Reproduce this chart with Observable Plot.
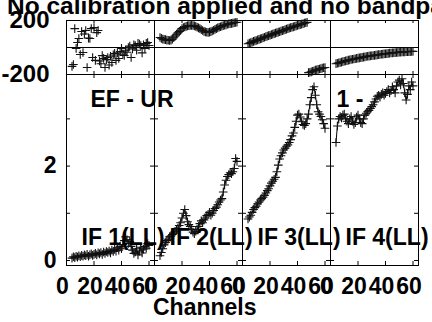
<!DOCTYPE html>
<html>
<head>
<meta charset="utf-8">
<script src="https://cdn.jsdelivr.net/npm/d3@7"></script>
<script src="https://cdn.jsdelivr.net/npm/@observablehq/plot@0.6"></script>
<style>
  html, body { margin: 0; padding: 0; background: #fff; }
  #wrap { position: relative; width: 432px; height: 322px; overflow: hidden;
          font-family: "Liberation Sans", Arial, Helvetica, sans-serif; font-weight: bold; color: #000; }
  #wrap svg { position: absolute; left: 0; top: 0; }
  .title { position: absolute; left: 7px; top: -6px; font-size: 24.5px; line-height: 24.5px; white-space: nowrap; }
  .xlabel { position: absolute; left: 153px; top: 296px; font-size: 23px; line-height: 23px; white-space: nowrap; }
</style>
</head>
<body>
<div id="wrap">
  <div class="title">No calibration applied and no bandpass applied</div>
  <div class="xlabel">Channels</div>
</div>
<script>
// ---- data ----
const panels = ["IF 1(LL)", "IF 2(LL)", "IF 3(LL)", "IF 4(LL)"];
const channels = [4,5,6,7,8,9,10,11,12,13,14,15,16,17,18,19,20,21,22,23,24,25,26,27,28,29,30,31,32,
  33,34,35,36,37,38,39,40,41,42,43,44,45,46,47,48,49,50,51,52,53,54,55,56,57,58,59,60];
const xTickValues = [0, 20, 40, 60];
const phaseTickLabels = [-200, 200];
const ampTickLabels = [0, 2];
const ampTickMarks = [0, 1, 2, 3];

const ampIF1 = [0.05,0.08,0.06,0.09,0.07,0.10,0.08,0.11,0.09,0.12,0.10,0.13,0.09,0.12,0.14,0.11,0.13,0.15,0.12,0.16,
  0.14,0.17,0.13,0.18,0.15,0.19,0.17,0.20,0.16,0.22,0.19,0.24,0.20,0.27,0.22,0.30,0.25,0.34,0.42,0.50,
  0.44,0.36,0.40,0.30,0.22,0.15,0.18,0.25,0.12,0.20,0.28,0.16,0.24,0.30,0.26,0.36,0.32];
const ampIF2 = [0.10,0.17,0.25,0.33,0.38,0.42,0.45,0.50,0.52,0.55,0.58,0.62,0.65,0.68,0.74,0.80,0.90,1.00,1.08,0.95,
  0.82,0.76,0.72,0.66,0.60,0.57,0.62,0.66,0.72,0.78,0.84,0.80,0.86,0.90,0.95,0.98,1.02,0.96,1.00,1.06,
  1.10,1.13,1.18,1.24,1.28,1.31,1.45,1.60,1.70,1.78,1.82,1.86,1.84,1.88,1.95,2.16,2.10];
const ampIF3 = [0.88,0.92,0.96,1.02,1.08,1.12,1.15,1.20,1.24,1.28,1.31,1.34,1.38,1.43,1.48,1.52,1.58,1.64,1.68,1.72,
  1.76,1.88,2.02,2.15,2.22,2.28,2.34,2.38,2.42,2.45,2.50,2.56,2.64,2.70,2.82,2.95,3.08,3.10,3.04,2.94,
  2.88,2.86,2.90,3.00,3.10,3.30,3.45,3.62,3.68,3.50,3.30,3.15,3.10,3.05,2.98,2.90,2.80];
const ampIF4 = [2.50,2.85,3.00,3.05,3.02,3.08,3.10,3.00,2.95,2.90,3.00,3.05,2.95,2.88,2.92,3.04,3.08,3.00,2.92,2.90,
  3.00,3.08,3.12,3.15,3.18,3.22,3.26,3.30,3.36,3.42,3.48,3.50,3.46,3.52,3.55,3.50,3.54,3.58,3.62,3.55,
  3.60,3.68,3.62,3.55,3.70,3.78,3.82,3.72,3.85,3.75,3.55,3.40,3.52,3.70,3.62,3.78,3.70];

const phaseIF1 = [-140,-126,140,-7,37,67,-52,118,-37,100,126,-148,70,67,140,-74,148,-95,110,126,
  -100,-120,-60,-81,-148,-90,-74,-130,-65,-111,-55,-44,-95,-40,-81,-30,-7,-50,-59,-20,
  -35,0,10,-74,-10,20,15,-20,30,25,15,-40,20,-7,30,37,15];
const phaseIF2 = [74,68,62,60,58,55,54,52,55,62,72,85,98,108,118,128,140,148,152,156,
  160,162,163,164,163,160,156,150,145,140,132,126,120,116,113,112,114,118,122,128,
  134,140,145,150,154,158,162,165,168,172,175,177,179,181,183,185,187];
const phaseIF3 = [28,32,36,40,45,49,52,56,60,64,68,72,76,80,84,88,91,95,99,103,
  106,110,114,117,121,125,128,132,136,140,143,147,150,153,157,160,163,167,170,173,
  176,180,183,186,-186,-183,-180,-176,-172,-168,-166,-162,-159,-156,-153,-150,-148];
const phaseIF4 = [-120,-117,-114,-111,-108,-105,-102,-99,-97,-94,-92,-89,-87,-85,-83,-81,-79,-77,-75,-73,
  -71,-69,-67,-65,-64,-62,-61,-59,-58,-56,-55,-53,-52,-50,-49,-47,-46,-45,-44,-42,
  -41,-40,-39,-38,-37,-36,-35,-34,-33,-33,-32,-31,-31,-30,-30,-29,-29];

const overlayLabels = [{panel: "IF 1(LL)", text: "EF - UR"}];
const overlayLabels4 = [{panel: "IF 4(LL)", text: "1 -"}];

// ---- tables built from the arrays ----
const ampSeries = [ampIF1, ampIF2, ampIF3, ampIF4];
const phaseSeries = [phaseIF1, phaseIF2, phaseIF3, phaseIF4];
const ampRows = [], phaseRows = [];
panels.forEach((p, i) => {
  channels.forEach((c, j) => {
    ampRows.push({panel: p, ch: c, v: ampSeries[i][j]});
    phaseRows.push({panel: p, ch: c, v: phaseSeries[i][j]});
  });
});
const panelRows = panels.map(p => ({panel: p}));

const FONT = '"Liberation Sans", Arial, Helvetica, sans-serif';
const plain = d => String(d);
const common = {
  width: 432, height: 322, marginLeft: 65, marginRight: 14,
  style: {fontFamily: FONT, fontWeight: "bold", fontSize: "22px", background: "transparent", overflow: "visible"},
  fx: {domain: panels, padding: 0, axis: null}
};

// Phase plot (top strip)
const phasePlot = Plot.plot({
  ...common,
  marginTop: 20, marginBottom: 248,
  x: {domain: [0, 64], axis: null},
  y: {domain: [-200, 200]},
  marks: [
    Plot.frame({stroke: "#000"}),
    Plot.ruleY([0], {stroke: "#000"}),
    Plot.tickX(xTickValues, {x: d => d, insetTop: 51, stroke: "#000"}),
    Plot.tickX(xTickValues, {x: d => d, insetBottom: 51, stroke: "#000"}),
    Plot.axisY({ticks: phaseTickLabels, tickFormat: plain, tickSize: 0, tickPadding: 17, label: null, fontSize: 24}),
    Plot.dot(phaseRows, {fx: "panel", x: "ch", y: "v", symbol: "plus", r: 2.9, stroke: "#111", strokeWidth: 1.1})
  ]
});

// Amplitude plot (main strip)
const ampPlot = Plot.plot({
  ...common,
  marginTop: 74, marginBottom: 57,
  x: {domain: [0, 64]},
  y: {domain: [-0.106, 3.94]},
  marks: [
    Plot.frame({stroke: "#000"}),
    Plot.tickX(xTickValues, {x: d => d, insetTop: 187, stroke: "#000"}),
    Plot.tickX(xTickValues, {x: d => d, insetBottom: 187, stroke: "#000"}),
    Plot.tickY(ampTickMarks, {y: d => d, insetRight: 84, stroke: "#000"}),
    Plot.tickY(ampTickMarks, {y: d => d, insetLeft: 84, stroke: "#000"}),
    Plot.axisY({ticks: ampTickLabels, tickFormat: plain, tickSize: 0, tickPadding: 10, label: null, fontSize: 23}),
    Plot.axisX({ticks: xTickValues, tickFormat: plain, tickSize: 0, tickPadding: 12, dx: -4, label: null, fontSize: 23}),
    Plot.lineY(ampRows, {fx: "panel", x: "ch", y: "v", stroke: "#000", strokeWidth: 1}),
    Plot.dot(ampRows, {fx: "panel", x: "ch", y: "v", symbol: "plus", r: 2.9, stroke: "#111", strokeWidth: 1.1}),
    Plot.text(panelRows, {fx: "panel", text: "panel", frameAnchor: "bottom-left", dx: 15, dy: -28,
      textAnchor: "start", lineAnchor: "middle", fontSize: 23, fontWeight: "bold", fill: "#000"}),
    Plot.text(overlayLabels, {fx: "panel", text: "text", frameAnchor: "top-left", dx: 24, dy: 25,
      textAnchor: "start", lineAnchor: "middle", fontSize: 23, fontWeight: "bold", fill: "#000"}),
    Plot.text(overlayLabels4, {fx: "panel", text: "text", frameAnchor: "top-left", dx: 6, dy: 25,
      textAnchor: "start", lineAnchor: "middle", fontSize: 23, fontWeight: "bold", fill: "#000"})
  ]
});

const wrap = document.getElementById("wrap");
wrap.insertBefore(ampPlot, wrap.firstChild);
wrap.insertBefore(phasePlot, wrap.firstChild);
</script>
</body>
</html>
